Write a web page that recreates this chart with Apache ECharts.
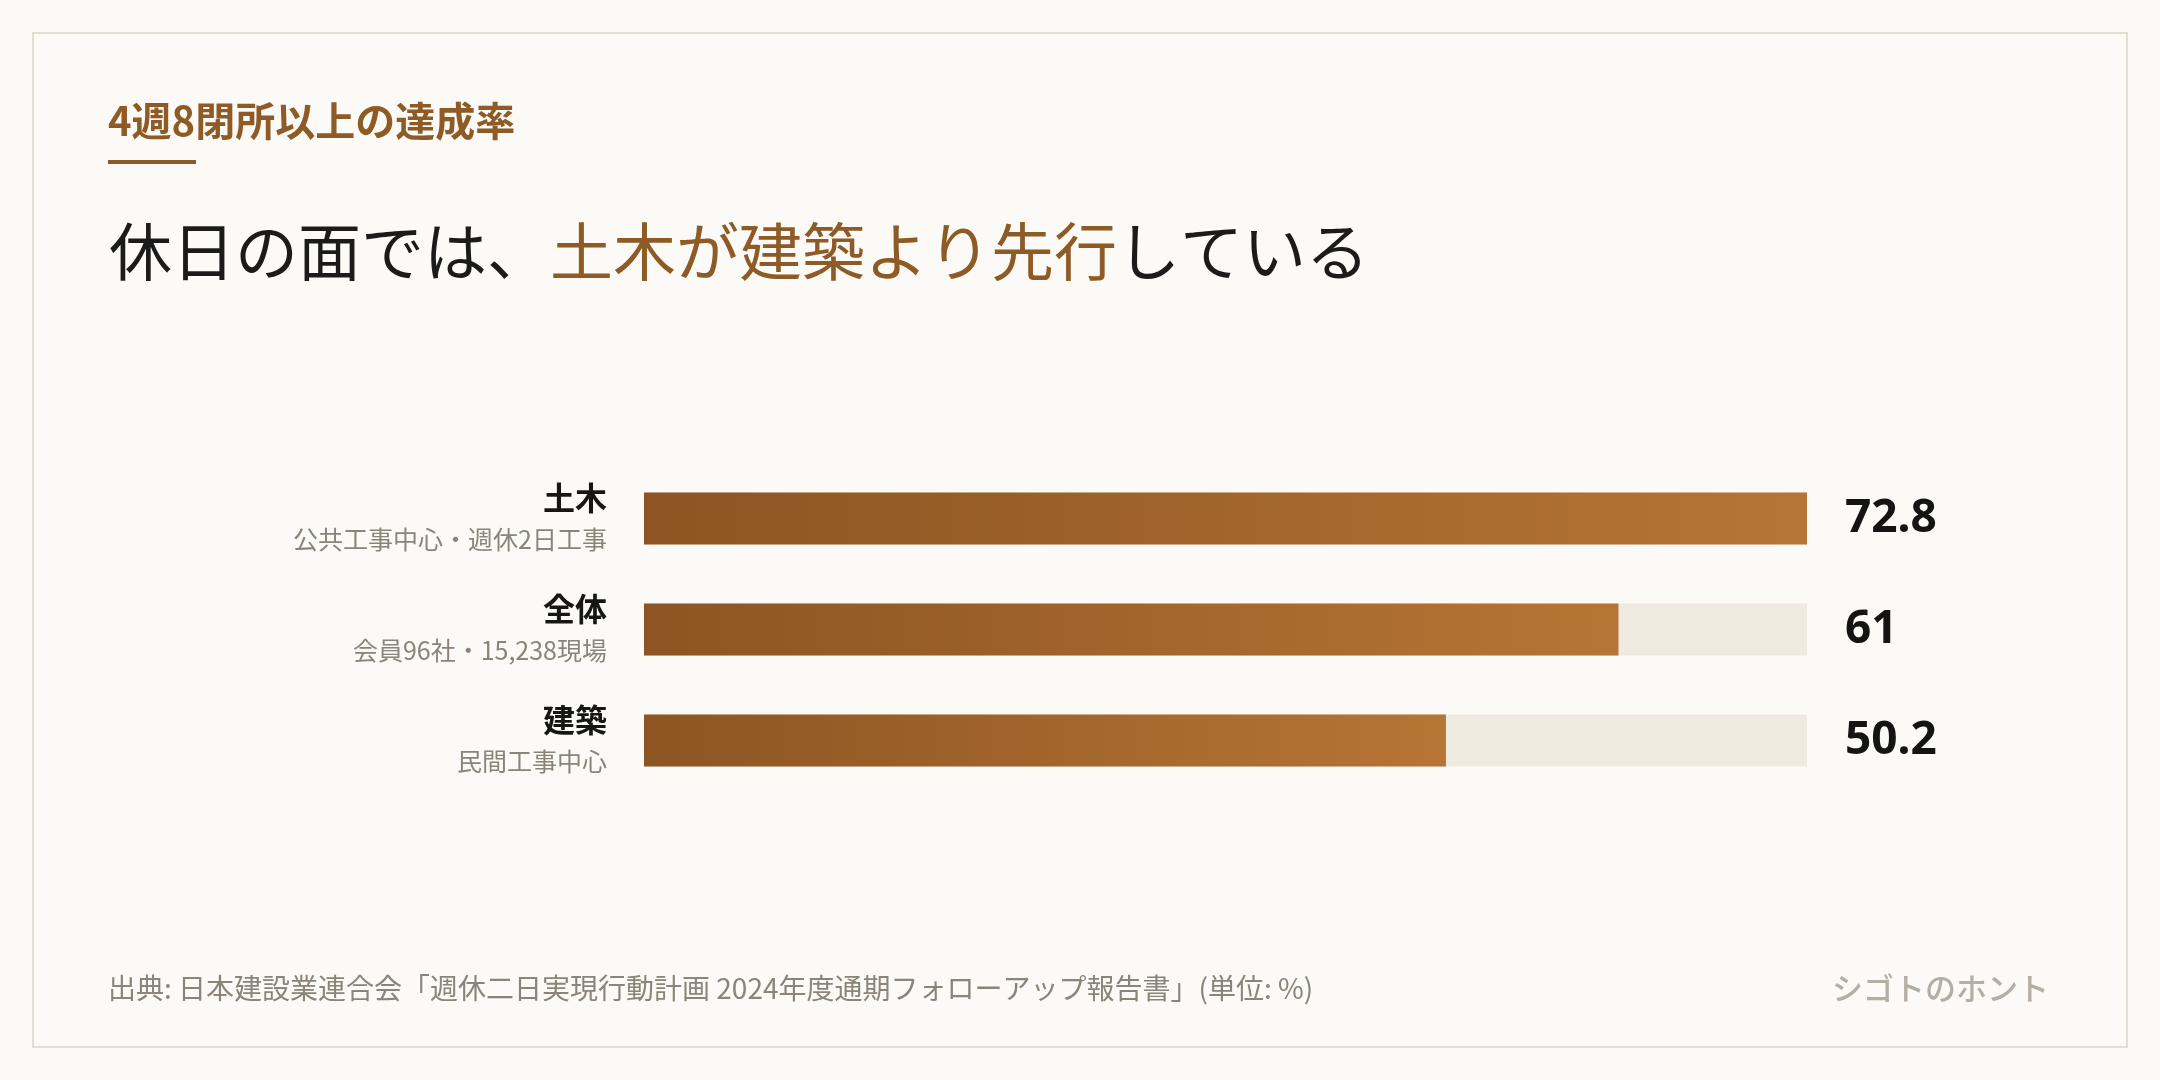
<!DOCTYPE html>
<html>
<head>
<meta charset="utf-8">
<script src="https://cdn.jsdelivr.net/npm/echarts@6/dist/echarts.min.js"></script>
<style>
  html, body { margin: 0; padding: 0; background: #faf9f5; }
  #main { width: 2160px; height: 1080px; }
</style>
</head>
<body>
<div id="main"></div>
<script>
var chartDom = document.getElementById('main');
var myChart = echarts.init(chartDom);
var option;

// データ
var categories = ['土木', '全体', '建築'];
var subLabels = ['公共工事中心・週休2日工事', '会員96社・15,238現場', '民間工事中心'];
var rates = [72.8, 61, 50.2];

var JP = "'Noto Sans CJK JP', 'Noto Sans', sans-serif";

option = {
  backgroundColor: '#faf9f5',
  textStyle: { fontFamily: JP },
  title: [
    {
      text: '4週8閉所以上の達成率',
      left: 103, top: 92,
      textStyle: { fontFamily: JP, fontSize: 40, fontWeight: 'bold', color: '#8e5a25', lineHeight: 48 }
    },
    {
      text: '{a|休日の面では、}{b|土木が建築より先行}{a|している}',
      left: 104, top: 207,
      textStyle: {
        fontWeight: 'normal',
        rich: {
          a: { fontFamily: JP, fontSize: 63, fontWeight: 'normal', color: '#1b1b1b', lineHeight: 78 },
          b: { fontFamily: JP, fontSize: 63, fontWeight: 'normal', color: '#8e5a25', lineHeight: 78 }
        }
      }
    },
    {
      text: '出典: 日本建設業連合会「週休二日実現行動計画 2024年度通期フォローアップ報告書」(単位: %)',
      left: 103, top: 966,
      textStyle: { fontFamily: JP, fontSize: 28, fontWeight: 'normal', color: '#8a8479', lineHeight: 34 }
    },
    {
      text: 'シゴトのホント',
      right: 106, top: 964,
      textStyle: { fontFamily: JP, fontSize: 31, fontWeight: 500, color: '#b4aea4', lineHeight: 38 }
    }
  ],
  graphic: [
    {
      type: 'rect', z: -1, silent: true,
      shape: { x: 33, y: 33, width: 2094, height: 1014 },
      style: { fill: '#fbfaf6', stroke: '#e4dfd5', lineWidth: 2 }
    },
    {
      type: 'rect', silent: true,
      shape: { x: 108, y: 160, width: 88, height: 4 },
      style: { fill: '#8e5a25' }
    }
  ],
  grid: { left: 644, right: 353, top: 463, bottom: 284, containLabel: false },
  xAxis: {
    type: 'value',
    min: 0,
    max: 'dataMax',
    show: false
  },
  yAxis: [
    {
      type: 'category',
      data: categories,
      inverse: true,
      axisLine: { show: false },
      axisTick: { show: false },
      axisLabel: {
        margin: 37,
        formatter: function (v, i) {
          return '{n|' + v + '}\n{s|' + subLabels[i] + '}';
        },
        rich: {
          n: { fontFamily: JP, fontSize: 32, fontWeight: 'bold', color: '#161616', lineHeight: 42, align: 'right' },
          s: { fontFamily: JP, fontSize: 25, color: '#8a8479', lineHeight: 42, align: 'right' }
        }
      }
    },
    {
      type: 'category',
      position: 'right',
      data: rates.map(String),
      inverse: true,
      axisLine: { show: false },
      axisTick: { show: false },
      axisLabel: {
        margin: 38,
        fontFamily: "'Noto Sans', sans-serif",
        fontSize: 46,
        fontWeight: 'bold',
        color: '#141414'
      }
    }
  ],
  series: [
    {
      type: 'bar',
      data: rates,
      barWidth: 52,
      showBackground: true,
      backgroundStyle: { color: '#eeeadf' },
      itemStyle: {
        color: new echarts.graphic.LinearGradient(0, 0, 1, 0, [
          { offset: 0, color: '#8c5523' },
          { offset: 1, color: '#b77535' }
        ])
      },
      silent: true
    }
  ],
  animation: false
};

option && myChart.setOption(option);
</script>
</body>
</html>
